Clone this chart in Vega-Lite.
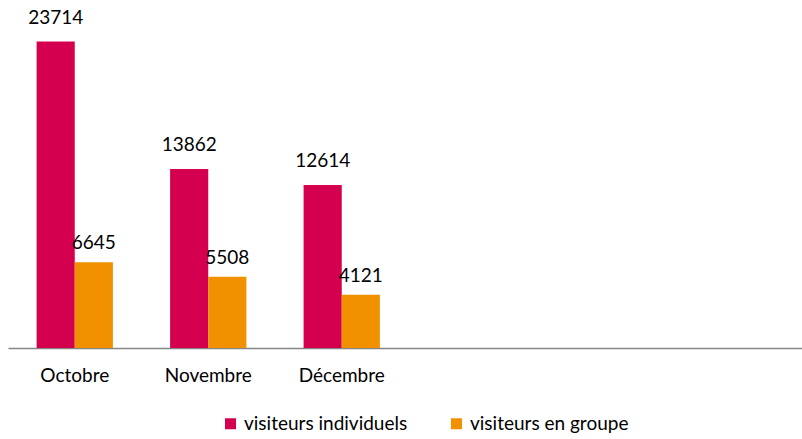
{
  "$schema": "https://vega.github.io/schema/vega-lite/v6.json",
  "autosize": {"type": "none"},
  "width": 801,
  "height": 323,
  "padding": {"left": 8, "top": 25, "right": 0, "bottom": 91},
  "background": "white",
  "config": {"view": {"stroke": null}, "font": "Lato"},
  "data": {
    "values": [
      {"mois": "Octobre", "serie": "visiteurs individuels", "valeur": 23714},
      {"mois": "Octobre", "serie": "visiteurs en groupe", "valeur": 6645},
      {"mois": "Novembre", "serie": "visiteurs individuels", "valeur": 13862},
      {"mois": "Novembre", "serie": "visiteurs en groupe", "valeur": 5508},
      {"mois": "Décembre", "serie": "visiteurs individuels", "valeur": 12614},
      {"mois": "Décembre", "serie": "visiteurs en groupe", "valeur": 4121}
    ]
  },
  "encoding": {
    "x": {
      "field": "mois", "type": "nominal",
      "scale": {"domain": ["Octobre", "Novembre", "Décembre", " ", "  ", "   "], "paddingInner": 0.4285, "paddingOuter": 0.2143},
      "axis": {"title": null, "labelAngle": 0, "ticks": false, "domainColor": "#868686", "domainWidth": 1.5, "labelFontSize": 19, "labelColor": "#000000", "labelPadding": 18, "labelFont": "Lato"}
    },
    "xOffset": {"field": "serie", "type": "nominal", "scale": {"domain": ["visiteurs individuels", "visiteurs en groupe"], "paddingInner": 0, "paddingOuter": 0}},
    "y": {"field": "valeur", "type": "quantitative", "scale": {"domain": [0, 25000], "nice": false}, "axis": null}
  },
  "layer": [
    {
      "mark": {"type": "bar"},
      "encoding": {
        "color": {
          "field": "serie", "type": "nominal",
          "scale": {"domain": ["visiteurs individuels", "visiteurs en groupe"], "range": ["#D4004F", "#F29100"]},
          "legend": {"title": null, "orient": "none", "legendX": 213, "legendY": 389, "direction": "horizontal", "symbolType": "square", "symbolSize": 121, "symbolStrokeWidth": 0, "labelFontSize": 19, "labelFont": "Lato", "labelColor": "#000000", "labelOffset": 4, "columnPadding": 39, "labelLimit": 400}
        }
      }
    },
    {
      "transform": [{"filter": "datum.serie == 'visiteurs individuels'"}],
      "mark": {"type": "text", "baseline": "alphabetic", "dy": -18, "fontSize": 19, "font": "Lato", "color": "#000000"},
      "encoding": {"text": {"field": "valeur", "type": "quantitative", "format": "d"}}
    },
    {
      "transform": [{"filter": "datum.serie == 'visiteurs en groupe'"}],
      "mark": {"type": "text", "baseline": "alphabetic", "dy": -13, "fontSize": 19, "font": "Lato", "color": "#000000"},
      "encoding": {"text": {"field": "valeur", "type": "quantitative", "format": "d"}}
    }
  ]
}
